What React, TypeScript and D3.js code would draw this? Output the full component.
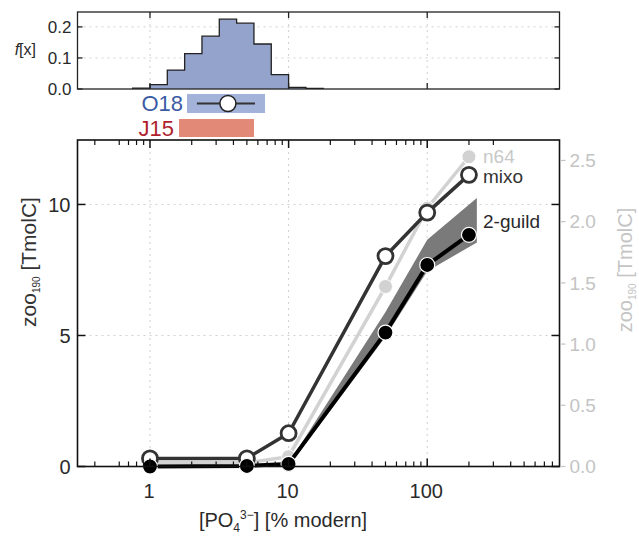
import React from "react";
import * as d3 from "d3";

// ---------- data ----------
const xs = [1, 5, 10, 50, 100, 200];
const mixo = [0.31, 0.31, 1.27, 8.03, 9.69, 11.13];
const twoGuild = [0.0, 0.02, 0.1, 5.11, 7.69, 8.84];
const n64 = [0.03, 0.03, 0.08, 1.47, 2.11, 2.53];

const bandX = [1, 5, 10, 50, 100, 228];
const bandLow = [0.0, 0.0, 0.0, 4.95, 7.45, 8.55];
const bandHigh = [0.0, 0.02, 0.12, 5.9, 8.65, 10.25];

const histLogEdges = [-0.125, 0, 0.125, 0.25, 0.375, 0.5, 0.625, 0.75, 0.875, 1.0, 1.125, 1.25];
const histValues = [0.003, 0.014, 0.061, 0.114, 0.17, 0.225, 0.212, 0.145, 0.046, 0.005, 0.002];

const o18Range = [1.85, 6.76];
const o18Whisker = [2.18, 5.72];
const o18Center = 3.65;
const j15Range = [1.62, 5.63];

const xMajor = [1, 10, 100];
const xMajorLabels = ["1", "10", "100"];
const xMinorBottom = [0.4, 0.6, 0.7, 0.8, 0.9, 2, 3, 4, 5, 6, 7, 8, 9, 20, 30, 40, 50, 60, 70, 80, 90, 200, 300, 400, 500, 600, 700, 800];
const xMinorTop = [0.4, 0.6, 0.7, 0.8, 0.9, 2, 3, 4, 5, 6, 7, 8, 9, 20, 30, 40, 50, 60, 70, 80, 90, 200, 300];
const yLeftTicks = [0, 5, 10];
const yRightTicks = [0, 0.5, 1.0, 1.5, 2.0, 2.5];
const hTicks = [0, 0.1, 0.2];

const FONT = "'Liberation Sans', Arial, Helvetica, sans-serif";

export default function App() {
  const x = d3.scaleLog().domain([0.3, 900]).range([77.5, 559.5]);
  const yL = d3.scaleLinear().domain([0, 12.46]).range([466.5, 140]);
  const yR = d3.scaleLinear().domain([0, 2.667]).range([466.5, 140]);
  const yH = d3.scaleLinear().domain([0, 0.248]).range([89, 12]);

  const [x0, x1] = x.range();
  const [mb, mt] = yL.range();
  const [hb, ht] = yH.range();

  // histogram step path
  const histPts: [number, number][] = [];
  histPts.push([Math.pow(10, histLogEdges[0]), 0]);
  histValues.forEach((v, i) => {
    histPts.push([Math.pow(10, histLogEdges[i]), v]);
    histPts.push([Math.pow(10, histLogEdges[i + 1]), v]);
  });
  histPts.push([Math.pow(10, histLogEdges[histLogEdges.length - 1]), 0]);
  const histLine = d3
    .line<[number, number]>()
    .x((d) => x(d[0]))
    .y((d) => yH(d[1]));

  const lineL = d3
    .line<number>()
    .x((_, i) => x(xs[i]))
    .y((d) => yL(d));
  const lineR = d3
    .line<number>()
    .x((_, i) => x(xs[i]))
    .y((d) => yR(d));
  const band = d3
    .area<number>()
    .x((_, i) => x(bandX[i]))
    .y0((_, i) => yL(bandLow[i]))
    .y1((d) => yL(d));

  const gridStyle = { stroke: "#d0d0d0", strokeWidth: 1, strokeDasharray: "2,4" };
  const ink = "#2a2a2a";
  const gray = "#c4c4c4";

  return (
    <svg
      width={639}
      height={537}
      style={{ position: "absolute", left: 0, top: 0, background: "#fff" }}
      fontFamily={FONT}
    >
      {/* ---------------- top histogram panel ---------------- */}
      <g>
        {xMajor.map((t) => (
          <line key={"hgx" + t} x1={x(t)} x2={x(t)} y1={ht} y2={hb} {...gridStyle} />
        ))}
        {hTicks.slice(1).map((t) => (
          <line key={"hgy" + t} x1={x0} x2={x1} y1={yH(t)} y2={yH(t)} {...gridStyle} />
        ))}
        <path d={histLine(histPts) || ""} fill="#94a3cb" stroke="#222" strokeWidth={1.3} />
        <rect x={x0} y={ht} width={x1 - x0} height={hb - ht} fill="none" stroke="#222" strokeWidth={1.3} />
        {xMajor.map((t) => (
          <g key={"htx" + t}>
            <line x1={x(t)} x2={x(t)} y1={ht} y2={ht + 6} stroke="#222" strokeWidth={1.3} />
            <line x1={x(t)} x2={x(t)} y1={hb} y2={hb - 6} stroke="#222" strokeWidth={1.3} />
          </g>
        ))}
        {hTicks.map((t) => (
          <g key={"hty" + t}>
            <line x1={x0} x2={x0 + 5} y1={yH(t)} y2={yH(t)} stroke="#222" strokeWidth={1.3} />
            <line x1={x1} x2={x1 - 5} y1={yH(t)} y2={yH(t)} stroke="#222" strokeWidth={1.3} />
            <text x={x0 - 6} y={yH(t)} dy="0.36em" textAnchor="end" fontSize={17} fill={ink}>
              {t.toFixed(1)}
            </text>
          </g>
        ))}
        <text x={36} y={49} dy="0.36em" textAnchor="end" fontSize={16} fill={ink}>
          <tspan fontStyle="italic">f</tspan>[x]
        </text>
      </g>

      {/* ---------------- O18 / J15 ---------------- */}
      <g>
        <rect
          x={x(o18Range[0])}
          y={94}
          width={x(o18Range[1]) - x(o18Range[0])}
          height={19}
          fill="#a3b2d8"
        />
        <line x1={x(o18Whisker[0])} x2={x(o18Whisker[1])} y1={103.5} y2={103.5} stroke="#333" strokeWidth={2} />
        <circle cx={x(o18Center)} cy={103.5} r={8} fill="#fff" stroke="#222" strokeWidth={1.5} />
        <text x={x(o18Range[0]) - 4} y={103.5} dy="0.36em" textAnchor="end" fontSize={22} fill="#3b5ba5">
          O18
        </text>
        <rect
          x={x(j15Range[0])}
          y={119}
          width={x(j15Range[1]) - x(j15Range[0])}
          height={18}
          fill="#e28a77"
        />
        <text x={x(j15Range[0]) - 5} y={128} dy="0.36em" textAnchor="end" fontSize={22} fill="#b01f2e">
          J15
        </text>
      </g>

      {/* ---------------- main panel ---------------- */}
      <g>
        {xMajor.map((t) => (
          <line key={"mgx" + t} x1={x(t)} x2={x(t)} y1={mt} y2={mb} {...gridStyle} />
        ))}
        {yLeftTicks.slice(1).map((t) => (
          <line key={"mgy" + t} x1={x0} x2={x1} y1={yL(t)} y2={yL(t)} {...gridStyle} />
        ))}

        <path d={band(bandHigh) || ""} fill="#7a7a7a" stroke="none" />

        <path d={lineR(n64) || ""} fill="none" stroke="#d2d2d2" strokeWidth={3.5} />
        {n64.map((v, i) => (
          <circle key={"n" + i} cx={x(xs[i])} cy={yR(v)} r={7} fill="#d2d2d2" stroke="#fff" strokeWidth={1} />
        ))}

        <path d={lineL(mixo) || ""} fill="none" stroke="#333" strokeWidth={3.5} />
        {mixo.map((v, i) => (
          <circle key={"m" + i} cx={x(xs[i])} cy={yL(v)} r={7.5} fill="#fff" stroke="#333" strokeWidth={2.8} />
        ))}

        <path d={lineL(twoGuild) || ""} fill="none" stroke="#000" strokeWidth={4} />
        {twoGuild.map((v, i) => (
          <circle key={"g" + i} cx={x(xs[i])} cy={yL(v)} r={7.5} fill="#000" stroke="#fff" strokeWidth={1.2} />
        ))}

        <text x={483} y={yR(n64[5]) - 1} dy="0.36em" fontSize={19} fill="#c8c8c8">
          n64
        </text>
        <text x={483} y={yL(mixo[5]) + 1} dy="0.36em" fontSize={19} fill="#333">
          mixo
        </text>
        <text x={483} y={221} dy="0.36em" fontSize={19} fill={ink}>
          2-guild
        </text>

        <rect x={x0} y={mt} width={x1 - x0} height={mb - mt} fill="none" stroke="#111" strokeWidth={1.6} />

        {/* x ticks */}
        {xMajor.map((t, i) => (
          <g key={"mx" + t}>
            <line x1={x(t)} x2={x(t)} y1={mb} y2={mb - 8} stroke="#111" strokeWidth={1.5} />
            <line x1={x(t)} x2={x(t)} y1={mt} y2={mt + 8} stroke="#111" strokeWidth={1.5} />
            <text x={x(t) - 1} y={mb + 24} dy="0.36em" textAnchor="middle" fontSize={20} fill={ink}>
              {xMajorLabels[i]}
            </text>
          </g>
        ))}
        {xMinorBottom.map((t) => (
          <line key={"mnb" + t} x1={x(t)} x2={x(t)} y1={mb} y2={mb - 5} stroke="#111" strokeWidth={1.2} />
        ))}
        {xMinorTop.map((t) => (
          <line key={"mnt" + t} x1={x(t)} x2={x(t)} y1={mt} y2={mt + 5} stroke="#111" strokeWidth={1.2} />
        ))}

        {/* left y ticks */}
        {yLeftTicks.map((t) => (
          <g key={"yl" + t}>
            <line x1={x0} x2={x0 + 8} y1={yL(t)} y2={yL(t)} stroke="#111" strokeWidth={1.5} />
            <line x1={x1} x2={x1 - 8} y1={yL(t)} y2={yL(t)} stroke="#111" strokeWidth={1.5} />
            <text x={x0 - 7} y={yL(t)} dy="0.36em" textAnchor="end" fontSize={20} fill={ink}>
              {t}
            </text>
          </g>
        ))}

        {/* right y ticks */}
        {yRightTicks.map((t) => (
          <g key={"yr" + t}>
            <line x1={x1 + 1} x2={x1 + 6} y1={yR(t)} y2={yR(t)} stroke={gray} strokeWidth={1.2} />
            <text x={x1 + 10} y={yR(t)} dy="0.36em" textAnchor="start" fontSize={19} fill={gray}>
              {t.toFixed(1)}
            </text>
          </g>
        ))}

        {/* axis labels */}
        <text
          transform={`translate(28, 262) rotate(-90)`}
          textAnchor="middle"
          dy="0.36em"
          fontSize={21}
          fill="#333"
        >
          zoo<tspan fontSize={10} dy="4">190</tspan>
          <tspan dy="-4"> [TmolC]</tspan>
        </text>
        <text
          transform={`translate(626, 270) rotate(-90)`}
          textAnchor="middle"
          dy="0.32em"
          fontSize={20}
          fill={gray}
        >
          zoo<tspan fontSize={10} dy="4">190</tspan>
          <tspan dy="-4"> [TmolC]</tspan>
        </text>
        <text x={283} y={520} dy="0.36em" textAnchor="middle" fontSize={20} fill={ink}>
          [PO<tspan fontSize={12} dy="5">4</tspan>
          <tspan fontSize={12} dy="-13">3−</tspan>
          <tspan dy="8">] [% modern]</tspan>
        </text>
      </g>
    </svg>
  );
}
